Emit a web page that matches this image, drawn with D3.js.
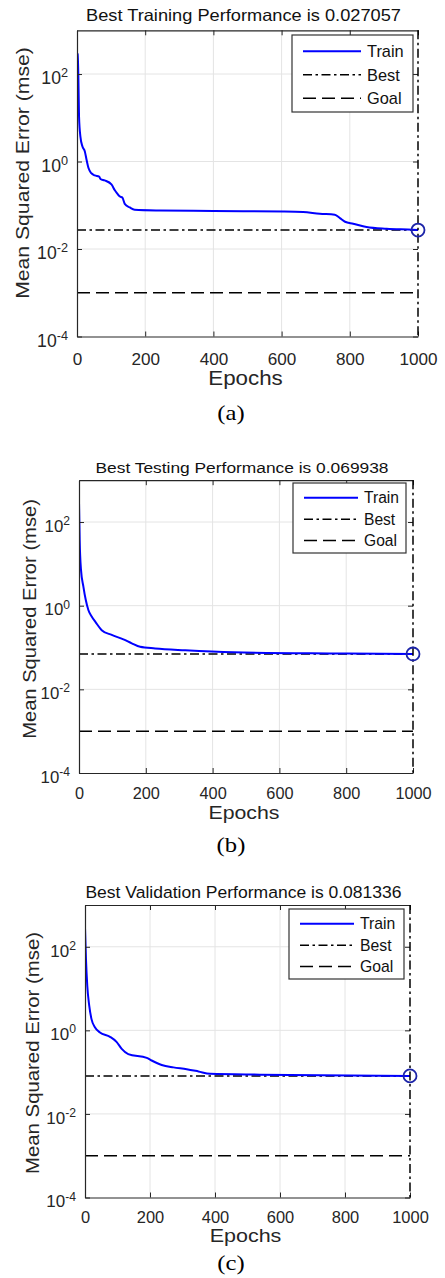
<!DOCTYPE html>
<html>
<head>
<meta charset="utf-8">
<script src="https://cdn.jsdelivr.net/npm/d3@7"></script>
<style>
  body { margin: 0; background: #fff; }
  svg { display: block; font-family: "Liberation Sans", Arial, sans-serif; }
</style>
</head>
<body>
<svg id="chart" width="445" height="1278"></svg>
<script>
// ---- data ----
const trainEpochsA = [0, 2, 4, 6, 10, 16, 23, 28, 34, 42, 52, 65, 69, 81, 101, 111, 117, 125, 133, 140, 155, 169, 243, 400, 605, 663, 712, 756, 771, 786, 810, 849, 908, 985, 1000];
const trainMseA = [295, 285, 87, 10.6, 3.7, 2.2, 1.7, 1.1, 0.70, 0.54, 0.48, 0.45, 0.40, 0.37, 0.30, 0.22, 0.19, 0.16, 0.15, 0.108, 0.089, 0.079, 0.076, 0.074, 0.072, 0.070, 0.064, 0.061, 0.051, 0.042, 0.038, 0.032, 0.029, 0.0275, 0.027057];

const trainEpochsB = [0, 2, 6, 13, 20, 28, 38, 50, 68, 98, 133, 158, 183, 228, 318, 462, 762, 1000];
const trainMseB = [310, 38, 7.2, 2.9, 1.4, 0.79, 0.55, 0.40, 0.26, 0.20, 0.157, 0.126, 0.104, 0.095, 0.086, 0.077, 0.072, 0.069938];

const trainEpochsC = [0, 3, 7, 13, 20, 31, 46, 77, 97, 113, 133, 190, 205, 236, 272, 313, 349, 385, 538, 1000];
const trainMseC = [290, 51, 11.7, 3.9, 1.86, 1.17, 0.89, 0.70, 0.53, 0.36, 0.27, 0.22, 0.19, 0.148, 0.13, 0.118, 0.104, 0.091, 0.087, 0.081336];

const bestMse = [0.027057, 0.069938, 0.081336];
const bestEpoch = 1000;
const goalMse = 0.001;
const titles = ['Best Training Performance is 0.027057', 'Best Testing Performance is 0.069938', 'Best Validation Performance is 0.081336'];
const tags = ['(a)', '(b)', '(c)'];
const legendLabels = ['Train', 'Best', 'Goal'];
const xTicks = [0, 200, 400, 600, 800, 1000];
const yTicks = [1e-4, 1e-2, 1e0, 1e2];
const xDomain = [0, 1000];
const yDomain = [1e-4, 1e3];

const series = [
  { epochs: trainEpochsA, mse: trainMseA },
  { epochs: trainEpochsB, mse: trainMseB },
  { epochs: trainEpochsC, mse: trainMseC }
];

// ---- layout of the three panels ----
const layout = [
  { L: 77, R: 418, T: 30.3, B: 336.5, s: 1.05, titleY: 21, ylabX: 29, ylabY: 173, xlabY: 385, tagY: 420, xPad: 16, leg: { x: 292, y: 35, w: 121, h: 77 } },
  { L: 79, R: 413, T: 480.2, B: 773, s: 1.0, titleY: 473, ylabX: 35.5, ylabY: 619, xlabY: 819, tagY: 852, xPad: 14, leg: { x: 293, y: 483, w: 113, h: 70 } },
  { L: 85, R: 410, T: 905, B: 1197.5, s: 1.01, titleY: 898, ylabX: 39, ylabY: 1053, xlabY: 1242, tagY: 1270, xPad: 14, leg: { x: 289, y: 909, w: 115, h: 70 } }
];

const ink = '#262626';
const blue = '#0000ff';
const dashDot = '9,3.5,2.5,3.5';
const dashed = '13,6';

const svg = d3.select('#chart');

// widen text a bit, the source font runs wider than Arial
function stretch(sel, k) {
  sel.each(function () {
    const w = this.getComputedTextLength();
    d3.select(this).attr('textLength', w * k).attr('lengthAdjust', 'spacingAndGlyphs');
  });
}

series.forEach((ser, i) => {
  const lay = layout[i];
  const s = lay.s;
  const x = d3.scaleLinear().domain(xDomain).range([lay.L, lay.R]);
  const y = d3.scaleLog().domain(yDomain).range([lay.B, lay.T]);
  const g = svg.append('g');

  // clip
  g.append('clipPath').attr('id', 'clip' + i)
    .append('rect').attr('x', lay.L).attr('y', lay.T)
    .attr('width', lay.R - lay.L).attr('height', lay.B - lay.T);

  // grid
  g.append('g').selectAll('line').data(xTicks.slice(1, -1)).join('line')
    .attr('x1', d => x(d)).attr('x2', d => x(d))
    .attr('y1', lay.T).attr('y2', lay.B)
    .attr('stroke', '#e4e4e4').attr('stroke-width', 1);
  g.append('g').selectAll('line').data(yTicks.slice(1)).join('line')
    .attr('x1', lay.L).attr('x2', lay.R)
    .attr('y1', d => y(d)).attr('y2', d => y(d))
    .attr('stroke', '#e4e4e4').attr('stroke-width', 1);

  const plot = g.append('g').attr('clip-path', `url(#clip${i})`);

  // goal + best horizontal lines
  plot.append('line')
    .attr('x1', lay.L).attr('x2', lay.R)
    .attr('y1', y(goalMse)).attr('y2', y(goalMse))
    .attr('stroke', '#000').attr('stroke-width', 1.5).attr('stroke-dasharray', dashed);
  plot.append('line')
    .attr('x1', lay.L).attr('x2', lay.R)
    .attr('y1', y(bestMse[i])).attr('y2', y(bestMse[i]))
    .attr('stroke', '#000').attr('stroke-width', 1.5).attr('stroke-dasharray', dashDot);

  // train curve
  const pts = ser.epochs.map((e, j) => [e, ser.mse[j]]);
  const line = d3.line().x(d => x(d[0])).y(d => y(d[1])).curve(d3.curveMonotoneX);
  plot.append('path').datum(pts)
    .attr('d', line)
    .attr('fill', 'none').attr('stroke', blue).attr('stroke-width', 2);

  // axes
  const xAxis = g.append('g').attr('transform', `translate(0,${lay.B})`)
    .call(d3.axisBottom(x).tickValues(xTicks).tickSize(-5).tickSizeOuter(0).tickPadding(lay.xPad).tickFormat(d3.format('d')));
  const yAxis = g.append('g').attr('transform', `translate(${lay.L},0)`)
    .call(d3.axisLeft(y).tickValues(yTicks).tickSize(-5).tickSizeOuter(0).tickPadding(9).tickFormat(() => ''));
  const topAxis = g.append('g').attr('transform', `translate(0,${lay.T})`)
    .call(d3.axisTop(x).tickValues(xTicks).tickSize(-5).tickSizeOuter(0).tickFormat(''));
  const rightAxis = g.append('g').attr('transform', `translate(${lay.R},0)`)
    .call(d3.axisRight(y).tickValues(yTicks).tickSize(-5).tickSizeOuter(0).tickFormat(''));
  rightAxis.select('.domain').remove();

  [xAxis, yAxis, topAxis, rightAxis].forEach(a => {
    a.attr('font-family', null).attr('font-size', 16.3 * s).style('color', ink);
    a.selectAll('.domain').attr('stroke-width', 1.2);
  });

  yAxis.selectAll('.tick text').each(function (d) {
    const t = d3.select(this).text(null).attr('dy', '0.55em').attr('font-size', 16.8 * s);
    t.append('tspan').text('10');
    t.append('tspan').attr('dy', '-0.55em').attr('font-size', '0.72em').text(Math.round(Math.log10(d)));
  });

  // best epoch vertical line and marker
  g.append('line')
    .attr('x1', x(bestEpoch)).attr('x2', x(bestEpoch))
    .attr('y1', lay.T).attr('y2', lay.B)
    .attr('stroke', '#000').attr('stroke-width', 1.5).attr('stroke-dasharray', dashDot);
  g.append('circle')
    .attr('cx', x(bestEpoch)).attr('cy', y(bestMse[i])).attr('r', 6.5)
    .attr('fill', 'none').attr('stroke', '#1c24a8').attr('stroke-width', 1.8);

  // title and axis labels
  const cx = (lay.L + lay.R) / 2;
  g.append('text').attr('x', cx - 4).attr('y', lay.titleY)
    .attr('text-anchor', 'middle').attr('font-size', 15.5 * s).attr('fill', '#111')
    .text(titles[i]).call(stretch, 1.12);
  g.append('text').attr('x', cx - 2).attr('y', lay.xlabY)
    .attr('text-anchor', 'middle').attr('font-size', 18.5 * s).attr('fill', ink)
    .text('Epochs').call(stretch, 1.15);
  g.append('text').attr('transform', `translate(${lay.ylabX},${lay.ylabY}) rotate(-90)`)
    .attr('text-anchor', 'middle').attr('font-size', 18 * s).attr('fill', ink)
    .text('Mean Squared Error  (mse)').call(stretch, 1.12);
  g.append('text').attr('x', 231).attr('y', lay.tagY)
    .attr('text-anchor', 'middle').attr('font-size', 22)
    .attr('font-family', '"Liberation Serif", "Times New Roman", serif').attr('fill', '#000')
    .text(tags[i]).call(stretch, 1.12);

  // legend
  const leg = g.append('g');
  leg.append('rect').attr('x', lay.leg.x).attr('y', lay.leg.y)
    .attr('width', lay.leg.w).attr('height', lay.leg.h)
    .attr('fill', '#fff').attr('stroke', '#333').attr('stroke-width', 1.2);
  const rowH = lay.leg.h / 3.27;
  const lineW = i === 0 ? 58 : 54;
  const styles = [
    { stroke: blue, dash: null, w: 2 },
    { stroke: '#000', dash: dashDot, w: 1.5 },
    { stroke: '#000', dash: dashed, w: 1.5 }
  ];
  legendLabels.forEach((lab, j) => {
    const ry = lay.leg.y + rowH * (0.69 + j);
    const lx = lay.leg.x + 11;
    leg.append('line').attr('x1', lx).attr('x2', lx + lineW)
      .attr('y1', ry).attr('y2', ry)
      .attr('stroke', styles[j].stroke).attr('stroke-width', styles[j].w)
      .attr('stroke-dasharray', styles[j].dash);
    leg.append('text').attr('x', lx + lineW + 6).attr('y', ry).attr('dy', '0.36em')
      .attr('font-size', 15.6 * s).attr('fill', '#111').text(lab);
  });
});
</script>
</body>
</html>
